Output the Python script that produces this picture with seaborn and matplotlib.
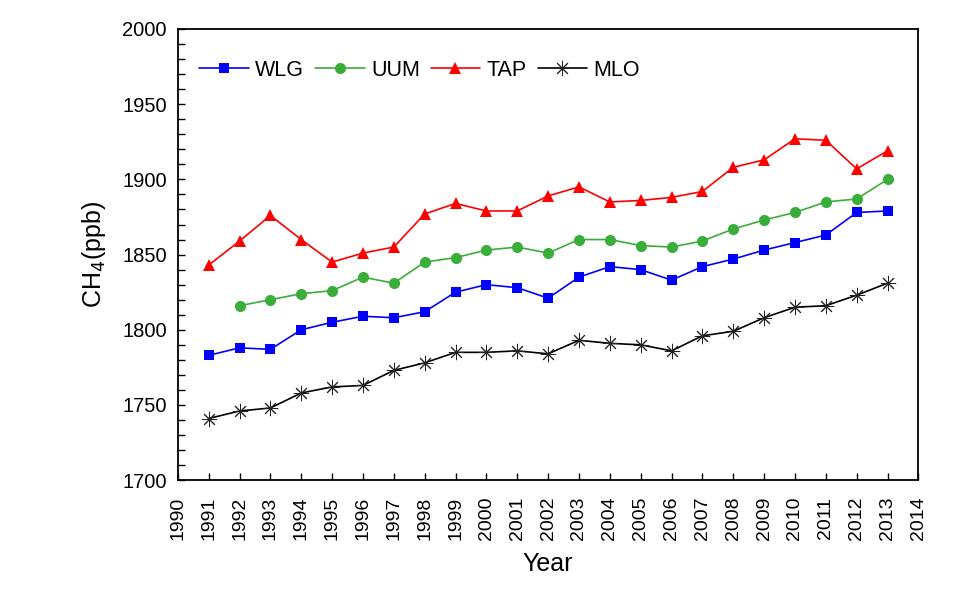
import numpy as np
import pandas as pd
import seaborn as sns
from matplotlib import pyplot as plt
from matplotlib.ticker import MultipleLocator

years = list(range(1991, 2014))
wlg = [1783, 1788, 1787, 1800, 1805, 1809, 1808, 1812, 1825, 1830, 1828, 1821,
       1835, 1842, 1840, 1833, 1842, 1847, 1853, 1858, 1863, 1878, 1879]
uum = [np.nan, 1816, 1820, 1824, 1826, 1835, 1831, 1845, 1848, 1853, 1855, 1851,
       1860, 1860, 1856, 1855, 1859, 1867, 1873, 1878, 1885, 1887, 1900]
tap = [1843, 1859, 1876, 1860, 1845, 1851, 1855, 1877, 1884, 1879, 1879, 1889,
       1895, 1885, 1886, 1888, 1892, 1908, 1913, 1927, 1926, 1907, 1919]
mlo = [1741, 1746, 1748, 1758, 1762, 1763, 1773, 1778, 1785, 1785, 1786, 1784,
       1793, 1791, 1790, 1786, 1796, 1799, 1808, 1815, 1816, 1823, 1831]
stations = ['WLG', 'UUM', 'TAP', 'MLO']

df = pd.DataFrame({'Year': years, 'WLG': wlg, 'UUM': uum, 'TAP': tap, 'MLO': mlo})
dados = df.melt(id_vars='Year', var_name='Station', value_name='CH4').dropna()

sns.set_style('ticks', {'axes.edgecolor': 'black', 'text.color': 'black',
                        'xtick.color': 'black', 'ytick.color': 'black',
                        'axes.labelcolor': 'black'})
plt.rcParams['font.family'] = ['Liberation Sans', 'DejaVu Sans']

cores = {'WLG': '#0000ff', 'UUM': '#3aad3a', 'TAP': '#ff0000', 'MLO': '#000000'}
marcadores = {'WLG': 's', 'UUM': 'o', 'TAP': '^', 'MLO': (8, 2, 0)}
tamanhos = {'WLG': 7, 'UUM': 8, 'TAP': 9, 'MLO': 11}

fig = plt.figure(figsize=(9.77, 6.04), dpi=100)
ax = fig.add_axes([0.182, 0.205, 0.758, 0.747])

for st in stations:
    sub = dados[dados.Station == st]
    sns.lineplot(x='Year', y='CH4', data=sub, ax=ax, color=cores[st], label=st,
                 marker=marcadores[st], markersize=tamanhos[st],
                 markeredgecolor='#222222' if st == 'MLO' else cores[st],
                 markeredgewidth=0.7 if st == 'MLO' else 0,
                 linewidth=1.2)

ax.set_xlim(1990, 2014)
ax.set_ylim(1700, 2000)
ax.set_xticks(range(1990, 2015))
ax.set_xticklabels([str(a) for a in range(1990, 2015)], rotation=90, fontsize=14)
ax.yaxis.set_major_locator(MultipleLocator(50))
ax.yaxis.set_minor_locator(MultipleLocator(10))
ax.tick_params(axis='y', labelsize=14.5, pad=8)
ax.tick_params(which='both', direction='in', length=5, width=1)
ax.tick_params(axis='x', pad=12)
for sp in ax.spines.values():
    sp.set_visible(True)
    sp.set_linewidth(1.3)

ax.set_xlabel('Year', fontsize=18, labelpad=8)
ax.set_ylabel('CH$_4$(ppb)', fontsize=18, labelpad=10)

ax.legend(loc='upper left', ncol=4, frameon=False, fontsize=15.5, handlelength=2.3,
          handletextpad=0.3, columnspacing=0.5, bbox_to_anchor=(0.0, 0.98),
          borderaxespad=0.6)

fig.savefig('out.png', dpi=100)
